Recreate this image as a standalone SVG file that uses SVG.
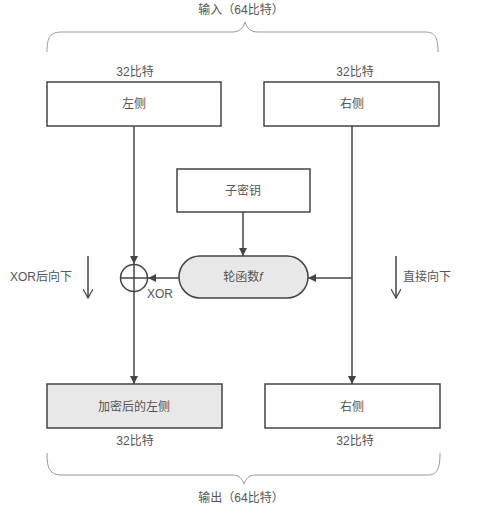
<svg xmlns="http://www.w3.org/2000/svg" width="493" height="512" viewBox="0 0 493 512">
<style>
text{font-family:"Liberation Sans","Noto Sans CJK SC",sans-serif;font-size:12px;fill:#555;text-anchor:middle;dominant-baseline:central}
.box{fill:#fff;stroke:#444;stroke-width:1.5}
.gray{fill:#e8e8e8}
.line{stroke:#444;stroke-width:1.5;fill:none}
.brace{stroke:#999;stroke-width:1;fill:none}
</style>
<defs>
<marker id="ah" viewBox="0 0 10 10" refX="10" refY="5" markerWidth="8" markerHeight="8" markerUnits="userSpaceOnUse" orient="auto">
<path d="M0,0 L10,5 L0,10 z" fill="#444"/>
</marker>
<marker id="open" viewBox="0 0 10 10" refX="9" refY="5" markerWidth="10" markerHeight="10" markerUnits="userSpaceOnUse" orient="auto">
<path d="M0,0 L9,5 L0,10" fill="none" stroke="#444" stroke-width="1.2"/>
</marker>
</defs>
<rect width="493" height="512" fill="#fff"/>
<g id="input-brace">
<path class="brace" d="M47,52 C47,37 50,32 62,32 L232,32 C240,32 243,28 245,22 C247,28 250,32 258,32 L425,32 C435,32 438,37 438,52"/>
<text x="241" y="10">输入（64比特）</text>
</g>
<g id="left-in">
<text x="135" y="72">32比特</text>
<rect class="box" x="47" y="82" width="174" height="44"/>
<text x="134" y="104">左侧</text>
</g>
<g id="right-in">
<text x="355" y="72">32比特</text>
<rect class="box" x="264" y="82" width="175" height="44"/>
<text x="352" y="104">右侧</text>
</g>
<g id="subkey">
<rect class="box" x="177" y="169" width="133" height="43"/>
<text x="243" y="191">子密钥</text>
</g>
<g id="round-f">
<rect class="box gray" x="179" y="256" width="129" height="42" rx="21"/>
<text x="243" y="277">轮函数<tspan font-style="italic">f</tspan></text>
</g>
<g id="xor">
<circle cx="134" cy="278" r="13.5" fill="none" stroke="#444" stroke-width="1.5"/>
<line class="line" x1="120.5" y1="278" x2="147.5" y2="278"/>
<line class="line" x1="134" y1="264.5" x2="134" y2="291.5"/>
<text x="160" y="294">XOR</text>
</g>
<g id="left-out">
<rect class="box gray" x="47" y="384" width="175" height="44"/>
<text x="134" y="407">加密后的左侧</text>
<text x="135" y="441">32比特</text>
</g>
<g id="right-out">
<rect class="box" x="265" y="384" width="175" height="44"/>
<text x="352" y="407">右侧</text>
<text x="355" y="441">32比特</text>
</g>
<g id="output-brace">
<path class="brace" d="M47,453 C47,469 50,475 62,475 L232,475 C240,475 242,479 244,484 C246,479 248,475 256,475 L428,475 C437,475 440,469 440,453"/>
<text x="241" y="498">输出（64比特）</text>
</g>
<g id="notes">
<text x="41" y="277">XOR后向下</text>
<line class="line" x1="88" y1="256" x2="88" y2="298" marker-end="url(#open)"/>
<text x="427" y="277">直接向下</text>
<line class="line" x1="396" y1="256" x2="396" y2="298" marker-end="url(#open)"/>
</g>
<g id="connectors">
<line class="line" x1="134" y1="126" x2="134" y2="264" marker-end="url(#ah)"/>
<line class="line" x1="243" y1="212" x2="243" y2="256" marker-end="url(#ah)"/>
<line class="line" x1="179" y1="278" x2="148" y2="278" marker-end="url(#ah)"/>
<polyline class="line" points="352,126 352,278"/>
<line class="line" x1="352" y1="278" x2="308" y2="278" marker-end="url(#ah)"/>
<line class="line" x1="352" y1="278" x2="352" y2="384" marker-end="url(#ah)"/>
<line class="line" x1="134" y1="291.5" x2="134" y2="384" marker-end="url(#ah)"/>
</g>
</svg>
